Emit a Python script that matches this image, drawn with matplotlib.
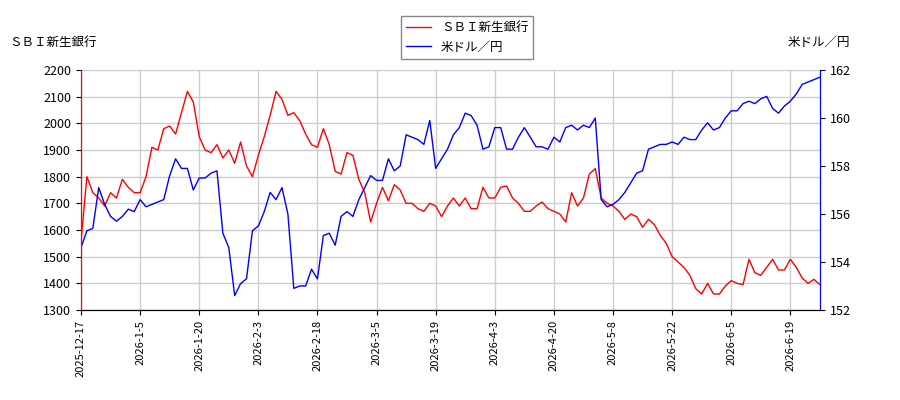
import matplotlib
matplotlib.use("Agg")
import matplotlib.pyplot as plt

plt.rcParams['font.family'] = ['Noto Sans CJK JP', 'DejaVu Sans']

price = [1560,1800,1740,1720,1690,1740,1720,1790,1760,1740,
         1740,1800,1910,1900,1980,1990,1960,2040,2120,2080,
         1950,1900,1890,1920,1870,1900,1850,1930,1840,1800,
         1880,1950,2030,2120,2090,2030,2040,2010,1960,1920,
         1910,1980,1920,1820,1810,1890,1880,1790,1740,1630,
         1700,1760,1710,1770,1750,1700,1700,1680,1670,1700,
         1690,1650,1690,1720,1690,1720,1680,1680,1760,1720,
         1720,1760,1765,1720,1700,1670,1670,1690,1705,1680,
         1670,1660,1630,1740,1690,1720,1810,1830,1720,1700,
         1690,1670,1640,1660,1650,1610,1640,1620,1580,1550,
         1500,1480,1460,1430,1380,1360,1400,1360,1360,1390,
         1410,1400,1395,1490,1440,1430,1460,1490,1450,1450,
         1490,1460,1420,1400,1415,1395]
usdjpy = [154.6,155.3,155.4,157.1,156.4,155.9,155.7,155.9,156.2,156.1,
          156.6,156.3,156.4,156.5,156.6,157.6,158.3,157.9,157.9,157.0,
          157.5,157.5,157.7,157.8,155.2,154.6,152.6,153.1,153.3,155.3,
          155.5,156.1,156.9,156.6,157.1,156.0,152.9,153.0,153.0,153.7,
          153.3,155.1,155.2,154.7,155.9,156.1,155.9,156.6,157.1,157.6,
          157.4,157.4,158.3,157.8,158.0,159.3,159.2,159.1,158.9,159.9,
          157.9,158.3,158.7,159.3,159.6,160.2,160.1,159.7,158.7,158.8,
          159.6,159.6,158.7,158.7,159.2,159.6,159.2,158.8,158.8,158.7,
          159.2,159.0,159.6,159.7,159.5,159.7,159.6,160.0,156.6,156.3,
          156.4,156.6,156.9,157.3,157.7,157.8,158.7,158.8,158.9,158.9,
          159.0,158.9,159.2,159.1,159.1,159.5,159.8,159.5,159.6,160.0,
          160.3,160.3,160.6,160.7,160.6,160.8,160.9,160.4,160.2,160.5,
          160.7,161.0,161.4,161.5,161.6,161.7]
tick_pos = [0,10,20,30,40,50,60,70,80,90,100,110,120]
tick_labels = ['2025-12-17','2026-1-5','2026-1-20','2026-2-3','2026-2-18','2026-3-5',
               '2026-3-19','2026-4-3','2026-4-20','2026-5-8','2026-5-22','2026-6-5','2026-6-19']

fig = plt.figure(figsize=(9, 4), dpi=100)
ax = fig.add_axes([0.09, 0.225, 0.821, 0.6])
ax2 = ax.twinx()
x = list(range(len(price)))
l1, = ax.plot(x, price, color='red', lw=1, label='ＳＢＩ新生銀行')
l2, = ax2.plot(x, usdjpy, color='blue', lw=1, label='米ドル／円')
ax.set_xlim(0, len(price) - 1)
ax.set_ylim(1300, 2200)
ax.set_yticks(range(1300, 2201, 100))
ax2.set_ylim(152, 162)
ax2.set_yticks(range(152, 163, 2))
ax.set_xticks(tick_pos)
ax.set_xticklabels(tick_labels, rotation=90, fontsize=8)
ax.tick_params(axis='y', labelsize=9)
ax2.tick_params(axis='y', labelsize=9)
ax.grid(True, color='#cccccc', lw=1)
ax.set_axisbelow(True)
ax.spines['left'].set_color('red')
ax2.spines['left'].set_color('red')
ax2.spines['right'].set_color('blue')
ax.spines['top'].set_visible(False)
ax2.spines['top'].set_visible(False)
fig.text(0.01, 0.885, 'ＳＢＩ新生銀行', fontsize=9)
fig.text(0.945, 0.885, '米ドル／円', fontsize=9, ha='right')
fig.legend(handles=[l1, l2], loc='upper center', bbox_to_anchor=(0.519, 0.975),
           fontsize=9, fancybox=False, edgecolor='#888888', framealpha=1)
fig.savefig('out.png')
